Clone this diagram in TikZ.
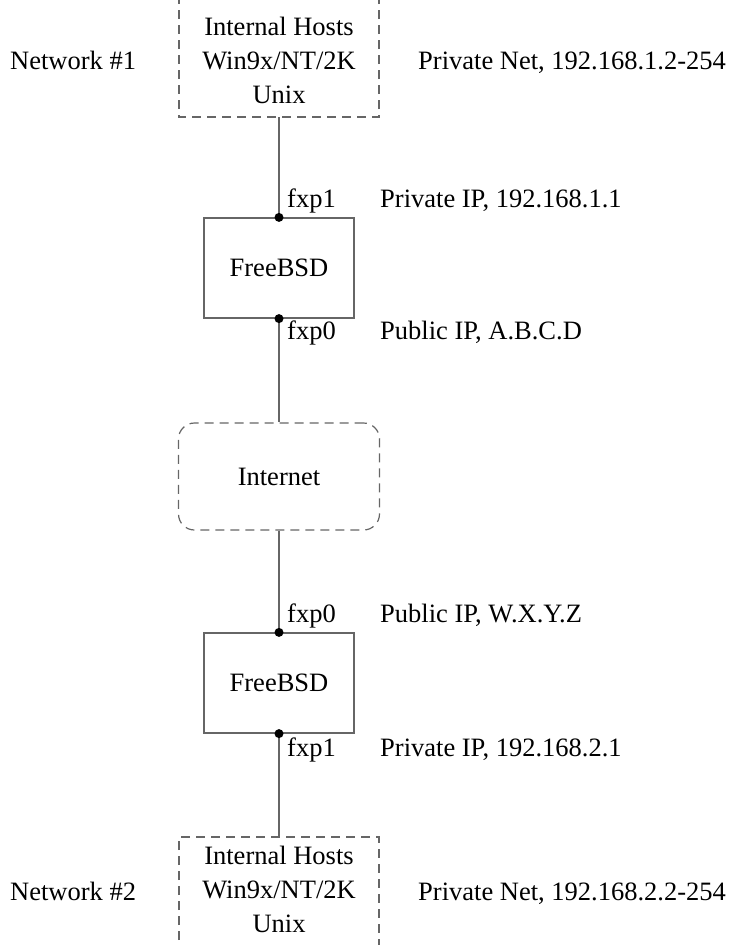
\documentclass[tikz,border=0pt]{standalone}
\usepackage{fontspec}
\setmainfont{Liberation Serif}
\begin{document}
\begin{tikzpicture}[x=1pt,y=-1pt,
  every node/.style={font=\fontsize{26.5}{34}\selectfont, text=black},
  conn/.style={draw=black!60, line width=1.3pt},
  dashbox/.style={draw=black!60, line width=1.2pt, dash pattern=on 9pt off 6pt},
  routerbox/.style={draw=black!60, line width=1.2pt, minimum width=150pt, minimum height=100pt, inner sep=0pt},
  cloudbox/.style={dashbox, rounded corners=16pt, minimum width=201pt, minimum height=107pt, inner sep=0pt},
  hosttext/.style={align=center, inner sep=0pt, minimum width=200pt},
  lbl/.style={anchor=base west, inner sep=0pt},
  port/.style={fill=black}
]
\useasboundingbox (0,0) rectangle (739,945);
\clip (0,0) rectangle (739,945);

% internal hosts, network 1
\node[hosttext, minimum height=114pt] (hosts1) at (279,60) {Internal Hosts\\Win9x/NT/2K\\Unix};
\draw[dashbox] (179,-20) -- (179,117) -- (379,117) -- (379,-20);
\node[lbl] (net1) at (10,69) {Network \#1};
\node[lbl] (pnet1) at (418,69) {Private Net, 192.168.1.2-254};

% first FreeBSD
\node[routerbox] (fb1) at (279,268) {FreeBSD};
\node[lbl] (fxp1a) at (287,207) {fxp1};
\node[lbl] (ip1) at (380,207) {Private IP, 192.168.1.1};
\node[lbl] (fxp0a) at (287,339) {fxp0};
\node[lbl] (ip2) at (380,339) {Public IP, A.B.C.D};

% Internet
\node[cloudbox] (inet) at (279,476.5) {Internet};

% second FreeBSD
\node[routerbox] (fb2) at (279,683) {FreeBSD};
\node[lbl] (fxp0b) at (287,622) {fxp0};
\node[lbl] (ip3) at (380,622) {Public IP, W.X.Y.Z};
\node[lbl] (fxp1b) at (287,756) {fxp1};
\node[lbl] (ip4) at (380,756) {Private IP, 192.168.2.1};

% internal hosts, network 2
\node[hosttext, minimum height=104pt] (hosts2) at (279,889) {Internal Hosts\\Win9x/NT/2K\\Unix};
\draw[dashbox] (179,970) -- (179,837) -- (379,837) -- (379,970);
\node[lbl] (net2) at (10,900) {Network \#2};
\node[lbl] (pnet2) at (418,900) {Private Net, 192.168.2.2-254};

% connectors
\draw[conn] (hosts1.south) -- (fb1.north);
\draw[conn] (fb1.south) -- (inet.north);
\draw[conn] (inet.south) -- (fb2.north);
\draw[conn] (fb2.south) -- (hosts2.north);

% ports
\fill[port] (fb1.north) circle (4.5pt);
\fill[port] (fb1.south) circle (4.5pt);
\fill[port] (fb2.north) circle (4.5pt);
\fill[port] (fb2.south) circle (4.5pt);
\end{tikzpicture}
\end{document}
